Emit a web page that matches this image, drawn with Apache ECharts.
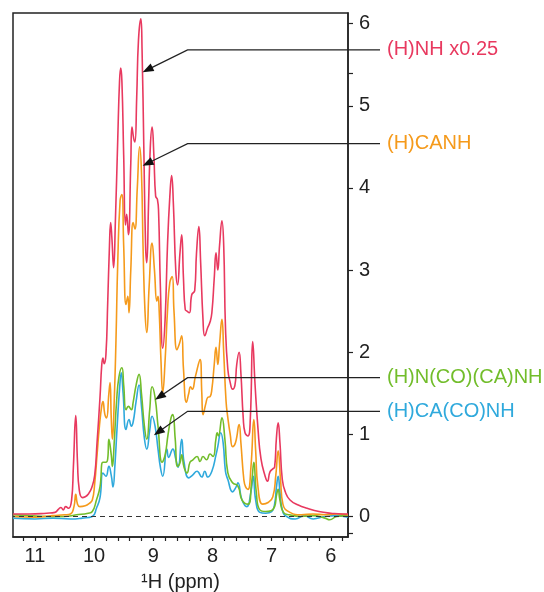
<!DOCTYPE html>
<html><head><meta charset="utf-8">
<script src="https://cdn.jsdelivr.net/npm/echarts@6/dist/echarts.min.js"></script>
<style>html,body{margin:0;padding:0;background:#fff}#c{width:544px;height:592px}</style>
</head><body><div id="c"></div>
<script>
// ---------- data ----------
const seriesNames = ['(H)NH x0.25', '(H)CANH', '(H)N(CO)(CA)NH', '(H)CA(CO)NH'];
const seriesColors = ['#e8395f', '#f59a1b', '#72bd2b', '#2fa9dc'];

const nhPpm = [11.37,11.1,10.8,10.66,10.6,10.56,10.52,10.48,10.43,10.38,10.35,10.31,10.28,10.25,10.2,10.15,10.1,10.04,9.99,9.95,9.9,9.87,9.85,9.83,9.8,9.77,9.74,9.72,9.7,9.67,9.64,9.6,9.57,9.55,9.53,9.5,9.47,9.45,9.42,9.38,9.36,9.33,9.31,9.28,9.25,9.21,9.19,9.16,9.13,9.11,9.08,9.05,9.02,8.99,8.96,8.93,8.91,8.88,8.84,8.8,8.76,8.72,8.69,8.66,8.62,8.59,8.55,8.52,8.49,8.46,8.43,8.39,8.35,8.3,8.27,8.23,8.2,8.16,8.13,8.08,8.04,8.01,7.97,7.94,7.91,7.88,7.84,7.81,7.78,7.74,7.7,7.66,7.62,7.59,7.55,7.52,7.48,7.45,7.4,7.36,7.32,7.28,7.23,7.18,7.11,7.07,7.03,6.98,6.95,6.92,6.89,6.86,6.82,6.77,6.69,6.55,6.4,6.2,6.0,5.8,5.71];
const nhVal = [0.03,0.03,0.04,0.05,0.09,0.11,0.08,0.12,0.10,0.2,0.6,1.23,0.65,0.32,0.23,0.24,0.27,0.35,0.5,0.9,1.45,1.85,1.93,1.86,1.97,2.6,3.3,3.58,3.4,3.03,3.6,4.6,5.3,5.46,5.3,4.4,3.55,3.68,3.43,4.3,4.74,4.6,4.56,5.1,5.8,6.06,5.7,4.5,3.3,3.09,3.8,4.5,4.74,4.4,3.9,3.86,3.7,2.8,2.05,2.4,3.3,3.9,4.15,3.8,3.0,2.82,3.2,3.43,2.9,2.52,2.5,2.48,2.7,2.75,3.2,3.53,3.1,2.4,2.2,2.3,2.37,2.48,2.9,3.21,3.0,3.3,3.6,3.3,2.3,1.79,1.63,1.55,1.6,1.85,2.0,1.75,1.2,1.02,0.98,1.2,2.13,1.6,1.06,0.7,0.49,0.43,0.54,0.58,0.6,0.95,1.14,0.9,0.45,0.3,0.2,0.14,0.1,0.06,0.04,0.03,0.03];

const canhPpm = [11.37,11.0,10.7,10.5,10.4,10.34,10.31,10.28,10.24,10.15,10.08,10.03,9.99,9.95,9.91,9.87,9.85,9.82,9.79,9.75,9.73,9.71,9.69,9.66,9.63,9.6,9.56,9.53,9.5,9.46,9.43,9.41,9.38,9.34,9.31,9.27,9.23,9.2,9.17,9.14,9.11,9.07,9.02,8.98,8.94,8.92,8.9,8.87,8.84,8.8,8.76,8.72,8.68,8.65,8.6,8.56,8.52,8.49,8.44,8.4,8.37,8.34,8.29,8.21,8.18,8.16,8.11,8.08,8.04,8.01,7.97,7.94,7.91,7.88,7.84,7.81,7.77,7.74,7.7,7.66,7.61,7.55,7.52,7.47,7.44,7.4,7.35,7.3,7.27,7.23,7.15,7.06,6.98,6.93,6.89,6.85,6.81,6.69,6.5,6.3,6.1,5.9,5.71];
const canhVal = [0.0,-0.01,0.01,0.02,0.03,0.12,0.27,0.15,0.12,0.13,0.16,0.2,0.4,0.75,1.1,1.35,1.4,1.25,1.2,1.5,1.63,1.2,0.94,1.4,2.15,3.1,3.85,3.92,3.3,2.58,2.68,2.48,3.0,3.58,3.5,4.0,4.5,4.2,3.2,2.5,2.24,2.8,3.33,3.0,2.62,2.68,2.5,1.9,1.51,1.9,2.5,2.85,2.92,2.5,2.03,2.1,2.2,1.8,1.39,1.5,1.58,1.55,1.7,1.91,1.5,1.24,1.38,1.45,1.46,1.55,1.85,2.06,1.85,2.1,2.4,2.0,1.4,1.2,1.0,0.85,0.9,1.12,0.9,0.45,0.36,0.33,0.6,1.18,0.8,0.35,0.15,0.17,0.24,0.5,0.8,0.45,0.15,0.05,0.02,0.03,0.02,0.03,0.02];

const ncoPpm = [11.37,11.1,10.8,10.5,10.3,10.1,10.03,9.96,9.9,9.85,9.8,9.77,9.75,9.71,9.69,9.66,9.62,9.58,9.53,9.5,9.46,9.42,9.37,9.34,9.29,9.24,9.2,9.15,9.11,9.06,9.02,8.97,8.92,8.85,8.8,8.75,8.7,8.67,8.63,8.59,8.55,8.52,8.48,8.43,8.38,8.33,8.26,8.21,8.16,8.1,8.04,7.99,7.94,7.92,7.9,7.84,7.79,7.74,7.66,7.57,7.5,7.4,7.34,7.3,7.26,7.2,7.1,7.01,6.95,6.92,6.89,6.86,6.8,6.7,6.5,6.3,6.1,6.02,5.9,5.71];
const ncoVal = [0.02,0.01,0.0,0.0,0.02,0.04,0.06,0.2,0.36,0.66,0.66,0.7,0.94,0.75,0.61,0.9,1.4,1.7,1.81,1.6,1.3,1.34,1.3,1.39,1.6,1.73,1.5,1.1,0.94,1.3,1.58,1.45,1.1,0.66,0.75,1.0,1.2,1.24,0.95,0.61,0.65,0.75,0.6,0.53,0.66,0.69,0.73,0.67,0.73,0.69,0.76,0.73,0.95,1.02,0.98,1.2,0.94,0.53,0.41,0.37,0.2,0.15,0.4,0.66,0.3,0.08,0.06,0.07,0.12,0.25,0.33,0.2,0.05,0.02,0.0,0.01,-0.02,-0.04,0.0,0.01];

const cacoPpm = [11.37,11.0,10.7,10.4,10.2,10.03,9.96,9.9,9.85,9.8,9.75,9.71,9.68,9.65,9.61,9.57,9.54,9.51,9.46,9.41,9.37,9.34,9.29,9.24,9.2,9.15,9.11,9.06,9.02,8.97,8.92,8.88,8.84,8.77,8.74,8.67,8.62,8.58,8.52,8.48,8.4,8.34,8.26,8.18,8.13,8.08,8.01,7.94,7.91,7.86,7.82,7.78,7.74,7.66,7.6,7.57,7.5,7.42,7.35,7.31,7.27,7.2,7.1,7.0,6.95,6.92,6.89,6.86,6.82,6.75,6.6,6.45,6.3,6.1,5.9,5.71];
const cacoVal = [-0.02,-0.03,-0.02,-0.03,-0.02,0.0,0.1,0.23,0.53,0.49,0.61,0.5,0.36,0.6,1.1,1.55,1.75,1.5,1.06,1.18,1.1,1.15,1.4,1.6,1.35,0.95,0.82,1.05,1.22,1.1,0.82,0.6,0.49,0.82,0.72,0.82,0.7,0.6,0.94,0.66,0.47,0.5,0.55,0.48,0.55,0.48,0.55,0.75,0.85,1.02,0.9,0.55,0.45,0.3,0.36,0.41,0.2,0.12,0.3,0.49,0.2,0.05,0.04,0.06,0.15,0.35,0.49,0.3,0.08,0.0,-0.03,0.01,-0.03,0.0,0.01,-0.01];

const xTickLabels = [6, 7, 8, 9, 10, 11];
const xTicks = [5.8,6.0,6.2,6.4,6.6,6.8,7.0,7.2,7.4,7.6,7.8,8.0,8.2,8.4,8.6,8.8,9.0,9.2,9.4,9.6,9.8,10.0,10.2,10.4,10.6,10.8,11.0,11.2];
const yTickLabels = [0, 1, 2, 3, 4, 5, 6];
const yTicks = [-0.2, 0, 1, 2, 3, 4, 5, 5.4, 6];

// annotation anchors (data space): arrow tip and elbow
const annTips = [[9.18, 5.41], [9.18, 4.27], [8.97, 1.42], [8.99, 0.99]];
const annElbows = [[8.42, 5.68], [8.42, 4.54], [8.42, 1.69], [8.42, 1.28]];

// ---------- chart ----------
const FONT = '"Liberation Sans", Arial, Helvetica, sans-serif';
const chart = echarts.init(document.getElementById('c'));
const zip = (a, b) => a.map((v, i) => [v, b[i]]);
const seriesData = [zip(nhPpm, nhVal), zip(canhPpm, canhVal), zip(ncoPpm, ncoVal), zip(cacoPpm, cacoVal)];

const drawOrder = [3, 2, 1, 0];
const series = drawOrder.map((idx, k) => ({
  name: seriesNames[idx],
  type: 'line',
  data: seriesData[idx],
  showSymbol: false,
  symbol: 'none',
  smooth: 0.5,
  lineStyle: { color: seriesColors[idx], width: 1.6 },
  itemStyle: { color: seriesColors[idx] },
  z: 2 + k,
  animation: false,
  markLine: k === 0 ? {
    silent: true, symbol: 'none', animation: false,
    label: { show: false },
    lineStyle: { color: '#333', type: [5, 4], width: 1.2 },
    data: [{ yAxis: 0 }]
  } : undefined
}));

chart.setOption({
  animation: false,
  backgroundColor: '#fff',
  grid: { left: 13, right: 196, top: 13, bottom: 55, outerBoundsMode: 'none', containLabel: false, show: true, borderColor: '#222', borderWidth: 1.5, backgroundColor: 'transparent' },
  xAxis: {
    type: 'value', inverse: true, min: 5.71, max: 11.37,
    name: '\u00b9H (ppm)', nameLocation: 'middle', nameGap: 35,
    nameTextStyle: { fontFamily: FONT, fontSize: 20, color: '#222' },
    axisLine: { show: true, onZero: false, lineStyle: { color: '#222', width: 1.5 } },
    axisTick: { show: true, customValues: xTicks, length: 4, lineStyle: { color: '#222', width: 1.2 } },
    axisLabel: { customValues: xTickLabels, fontFamily: FONT, fontSize: 20, color: '#222', margin: 9 },
    splitLine: { show: false }
  },
  yAxis: {
    type: 'value', position: 'right', min: -0.25, max: 6.13,
    axisLine: { show: true, onZero: false, lineStyle: { color: '#222', width: 1.5 } },
    axisTick: { show: true, customValues: yTicks, length: 5, lineStyle: { color: '#222', width: 1.2 } },
    axisLabel: { customValues: yTickLabels, fontFamily: FONT, fontSize: 20, color: '#222', margin: 11 },
    splitLine: { show: false }
  },
  series: series
});

// annotations
const labelLeft = 387, lineEndX = 380;
const graphics = [];
annTips.forEach((tipD, i) => {
  const t = chart.convertToPixel({ gridIndex: 0 }, tipD);
  const e = chart.convertToPixel({ gridIndex: 0 }, annElbows[i]);
  const dx = t[0] - e[0], dy = t[1] - e[1];
  const len = Math.sqrt(dx * dx + dy * dy);
  const ux = dx / len, uy = dy / len;
  const headL = 11, headW = 4.2;
  const bx = t[0] - ux * headL, by = t[1] - uy * headL;
  const px = -uy, py = ux;
  graphics.push({
    type: 'polyline', silent: true, z: 50,
    shape: { points: [[lineEndX, e[1]], [e[0], e[1]], [bx + ux * 2, by + uy * 2]] },
    style: { stroke: '#222', lineWidth: 1.3, fill: null }
  });
  graphics.push({
    type: 'polygon', silent: true, z: 51,
    shape: { points: [[t[0], t[1]], [bx + px * headW, by + py * headW], [bx - px * headW, by - py * headW]] },
    style: { fill: '#111', stroke: null }
  });
  graphics.push({
    type: 'text', silent: true, z: 52,
    x: labelLeft, y: e[1],
    style: { text: seriesNames[i], fill: seriesColors[i], font: '20px ' + FONT, textVerticalAlign: 'middle', verticalAlign: 'middle', textAlign: 'left' }
  });
});
chart.setOption({ graphic: graphics });
</script>
</body></html>
